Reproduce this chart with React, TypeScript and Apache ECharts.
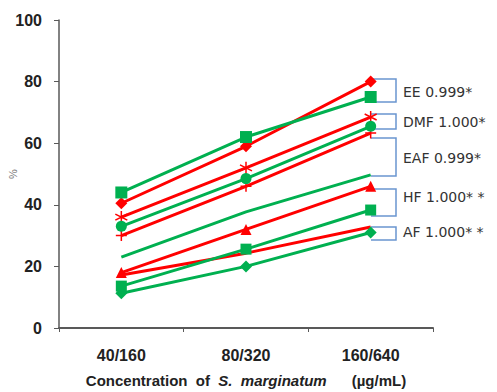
import React, { useEffect, useRef } from "react";
import * as echarts from "echarts";

const categories = ["40/160", "80/320", "160/640"];
const yTicks = [0, 20, 40, 60, 80, 100];

const eeRed = [40.5, 59, 80];
const eeGreen = [44, 62, 75];
const dmfRed = [36, 52, 68.5];
const dmfGreen = [33, 48.5, 65.5];
const eafRed = [30, 46, 63.3];
const eafGreen = [23, 37.7, 49.7];
const hfRed = [18, 32, 46];
const hfGreen = [13.6, 25.6, 38.3];
const afRed = [17.2, 24.3, 32.8];
const afGreen = [11.3, 20, 31];

const annotationLabels = ["EE 0.999*", "DMF 1.000*", "EAF 0.999*", "HF 1.000* *", "AF 1.000* *"];
const bracketTops = [79, 114, 138, 189, 227];
const bracketBottoms = [102, 129, 176, 216, 240];
const labelYs = [92, 122, 158, 197, 232];

const RED = "#FF0000";
const GREEN = "#00B050";
const STAR = "path://M0,-5L0,5M-4.3,-2.5L4.3,2.5M-4.3,2.5L4.3,-2.5";
const PLUS = "path://M0,-5L0,5M-5,0L5,0";

function line(name: string, data: number[], color: string, symbol: string, size: number, stroke = false) {
  return {
    name,
    type: "line",
    data,
    symbol,
    symbolSize: size,
    showSymbol: symbol !== "none",
    lineStyle: { color, width: 3 },
    itemStyle: stroke
      ? { color: "rgba(0,0,0,0)", borderColor: color, borderWidth: 1.5 }
      : { color, borderWidth: 0 },
    emphasis: { disabled: true },
    z: 2,
  };
}

export default function App() {
  const ref = useRef<HTMLDivElement>(null);
  useEffect(() => {
    if (!ref.current) return;
    const chart = echarts.init(ref.current, null, { renderer: "svg" });
    const graphics: any[] = [];
    annotationLabels.forEach((t, i) => {
      graphics.push({
        type: "polyline",
        shape: {
          points: [
            [371, bracketTops[i]],
            [396, bracketTops[i]],
            [396, bracketBottoms[i]],
            [371, bracketBottoms[i]],
          ],
        },
        style: { stroke: "#6A95D0", lineWidth: 1.5, fill: null },
        z: 1,
      });
      graphics.push({
        type: "text",
        x: 403,
        y: labelYs[i],
        style: {
          text: t,
          fontFamily: "DejaVu Sans",
          fontSize: 14,
          fill: "#333",
          textVerticalAlign: "middle",
          verticalAlign: "middle",
        },
      });
    });
    chart.setOption({
      animation: false,
      grid: { left: 59, right: 64, top: 20, bottom: 64, containLabel: false, outerBoundsMode: "none" },
      xAxis: {
        type: "category",
        data: categories,
        boundaryGap: true,
        axisLine: { lineStyle: { color: "#595959", width: 2 } },
        axisTick: { show: true, length: 4, lineStyle: { color: "#595959" } },
        axisLabel: {
          margin: 19,
          fontFamily: "Liberation Sans",
          fontWeight: "bold",
          fontSize: 16,
          color: "#222",
        },
        name: "{b|Concentration  of  }{i|S.  marginatum}{b|      (µg/mL)}",
        nameLocation: "middle",
        nameGap: 45,
        nameMoveOverlap: false,
        nameTextStyle: {
          rich: {
            b: { fontFamily: "Liberation Sans", fontWeight: "bold", fontSize: 15, color: "#222" },
            i: { fontFamily: "Liberation Sans", fontWeight: "bold", fontStyle: "italic", fontSize: 15, color: "#222" },
          },
        },
      },
      yAxis: {
        type: "value",
        min: yTicks[0],
        max: yTicks[yTicks.length - 1],
        interval: 20,
        splitLine: { show: false },
        axisLine: { show: true, lineStyle: { color: "#595959", width: 1.5 } },
        axisTick: { show: true, length: 5, lineStyle: { color: "#595959" } },
        axisLabel: {
          margin: 17,
          fontFamily: "Liberation Sans",
          fontWeight: "bold",
          fontSize: 16,
          color: "#222",
        },
        name: "%",
        nameLocation: "middle",
        nameGap: 41,
        nameRotate: 90,
        nameMoveOverlap: false,
        nameTextStyle: { fontFamily: "Liberation Sans", fontSize: 11, color: "#777" },
      },
      series: [
        line("AF red", afRed, RED, "none", 0),
        line("AF green", afGreen, GREEN, "diamond", 12),
        line("HF red", hfRed, RED, "triangle", 11),
        line("HF green", hfGreen, GREEN, "rect", 11),
        line("EAF red", eafRed, RED, PLUS, 11, true),
        line("EAF green", eafGreen, GREEN, "none", 0),
        line("DMF red", dmfRed, RED, STAR, 12, true),
        line("DMF green", dmfGreen, GREEN, "circle", 11),
        line("EE red", eeRed, RED, "diamond", 12),
        line("EE green", eeGreen, GREEN, "rect", 12),
      ],
      graphic: graphics,
    });
    return () => chart.dispose();
  }, []);
  return <div ref={ref} style={{ width: 497, height: 392, position: "absolute", left: 0, top: 0, background: "#fff" }} />;
}
